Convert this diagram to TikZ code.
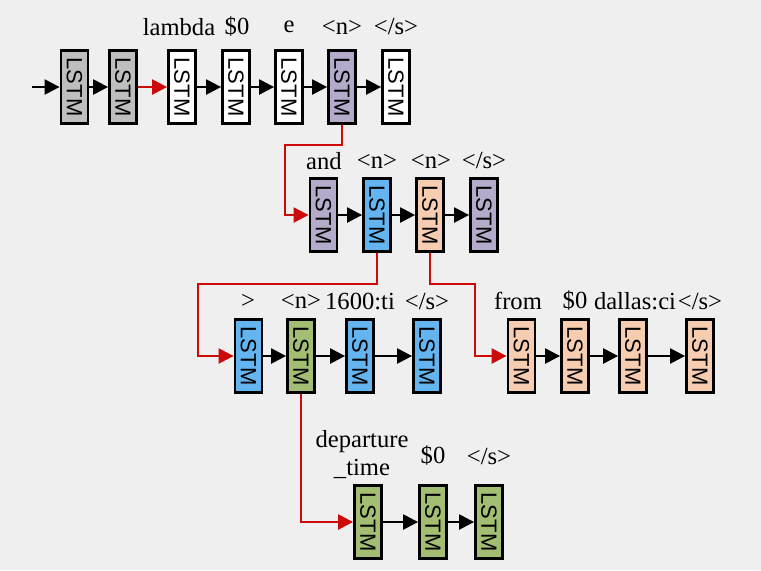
\documentclass[tikz,border=0pt]{standalone}
\usepackage{fontspec}
\setmainfont{Liberation Serif}
\setsansfont{Liberation Sans}
\usepackage{graphicx}
\usetikzlibrary{arrows.meta}

\definecolor{bggray}{RGB}{239,239,239}
\definecolor{cellgray}{RGB}{190,190,190}
\definecolor{cellpurple}{RGB}{180,170,202}
\definecolor{cellblue}{RGB}{100,180,240}
\definecolor{cellpeach}{RGB}{246,205,176}
\definecolor{cellgreen}{RGB}{163,190,114}
\definecolor{linkred}{RGB}{205,10,10}

\tikzset{
  cell/.style={draw=black, line width=1.4pt, fill=white, minimum width=13.5pt,
    minimum height=36.5pt, inner sep=0pt,
    font=\sffamily\fontsize{11}{12}\selectfont},
  word/.style={font=\fontsize{12.3}{13}\selectfont, inner sep=0pt, align=center},
  link/.style={draw=black, line width=1.2pt, -{Triangle[length=7.5pt,width=7.5pt]}},
  redlink/.style={draw=linkred, line width=1.2pt, -{Triangle[length=7.5pt,width=7.5pt]}}
}
\newcommand{\lstm}{\rotatebox{-90}{LSTM}}

\begin{document}
\begin{tikzpicture}[x=0.5pt,y=-0.5pt]
\fill[bggray] (0,0) rectangle (761,570);
\useasboundingbox (0,0) rectangle (761,570);

% first row
\node[cell,fill=cellgray] (t1) at (74.5,87) {\lstm};
\node[cell,fill=cellgray] (t2) at (123,87) {\lstm};
\node[cell] (t3) at (182,87) {\lstm};
\node[cell] (t4) at (236,87) {\lstm};
\node[cell] (t5) at (289,87) {\lstm};
\node[cell,fill=cellpurple] (t6) at (342,87) {\lstm};
\node[cell] (t7) at (396,87) {\lstm};
\node[word] (w3) at (179,27) {lambda};
\node[word] (w4) at (237,27) {\$0};
\node[word] (w5) at (289,27) {e};
\node[word] (w6) at (342,27) {<n>};
\node[word] (w7) at (396,27) {</s>};
\coordinate (start) at (32,87);
\draw[link] (start) -- (t1);
\draw[link] (t1) -- (t2);
\draw[redlink] (t2) -- (t3);
\draw[link] (t3) -- (t4);
\draw[link] (t4) -- (t5);
\draw[link] (t5) -- (t6);
\draw[link] (t6) -- (t7);

% second row
\node[cell,fill=cellpurple] (a1) at (323.5,215) {\lstm};
\node[cell,fill=cellblue] (a2) at (377,215) {\lstm};
\node[cell,fill=cellpeach] (a3) at (430,215) {\lstm};
\node[cell,fill=cellpurple] (a4) at (484,215) {\lstm};
\node[word] (v1) at (324,161) {and};
\node[word] (v2) at (377,161) {<n>};
\node[word] (v3) at (431,161) {<n>};
\node[word] (v4) at (484,161) {</s>};
\draw[link] (a1) -- (a2);
\draw[link] (a2) -- (a3);
\draw[link] (a3) -- (a4);
\coordinate (bendA) at (285,145);
\draw[redlink] (t6.south) |- (bendA) |- (a1.west);

% third row, left
\node[cell,fill=cellblue] (b1) at (248.5,356) {\lstm};
\node[cell,fill=cellgreen] (b2) at (301,356) {\lstm};
\node[cell,fill=cellblue] (b3) at (360,356) {\lstm};
\node[cell,fill=cellblue] (b4) at (427,356) {\lstm};
\node[word] (u1) at (248,301) {>};
\node[word] (u2) at (301,301) {<n>};
\node[word] (u3) at (360,301) {1600:ti};
\node[word] (u4) at (427,301) {</s>};
\draw[link] (b1) -- (b2);
\draw[link] (b2) -- (b3);
\draw[link] (b3) -- (b4);
\coordinate (bendB) at (198,284);
\draw[redlink] (a2.south) |- (bendB) |- (b1.west);

% third row, right
\node[cell,fill=cellpeach] (c1) at (521.5,356) {\lstm};
\node[cell,fill=cellpeach] (c2) at (575,356) {\lstm};
\node[cell,fill=cellpeach] (c3) at (633,356) {\lstm};
\node[cell,fill=cellpeach] (c4) at (700,356) {\lstm};
\node[word] (s1) at (518,301) {from};
\node[word] (s2) at (575,301) {\$0};
\node[word] (s3) at (635,301) {dallas:ci};
\node[word] (s4) at (700,301) {</s>};
\draw[link] (c1) -- (c2);
\draw[link] (c2) -- (c3);
\draw[link] (c3) -- (c4);
\coordinate (bendC) at (475,284);
\draw[redlink] (a3.south) |- (bendC) |- (c1.west);

% fourth row
\node[cell,fill=cellgreen] (d1) at (368,522) {\lstm};
\node[cell,fill=cellgreen] (d2) at (433,522) {\lstm};
\node[cell,fill=cellgreen] (d3) at (489,522) {\lstm};
\node[word] (r1) at (362,455) {departure\\[1pt]\_time};
\node[word] (r2) at (433,456) {\$0};
\node[word] (r3) at (489,456) {</s>};
\draw[link] (d1) -- (d2);
\draw[link] (d2) -- (d3);
\draw[redlink] (b2.south) |- (d1.west);
\end{tikzpicture}
\end{document}
